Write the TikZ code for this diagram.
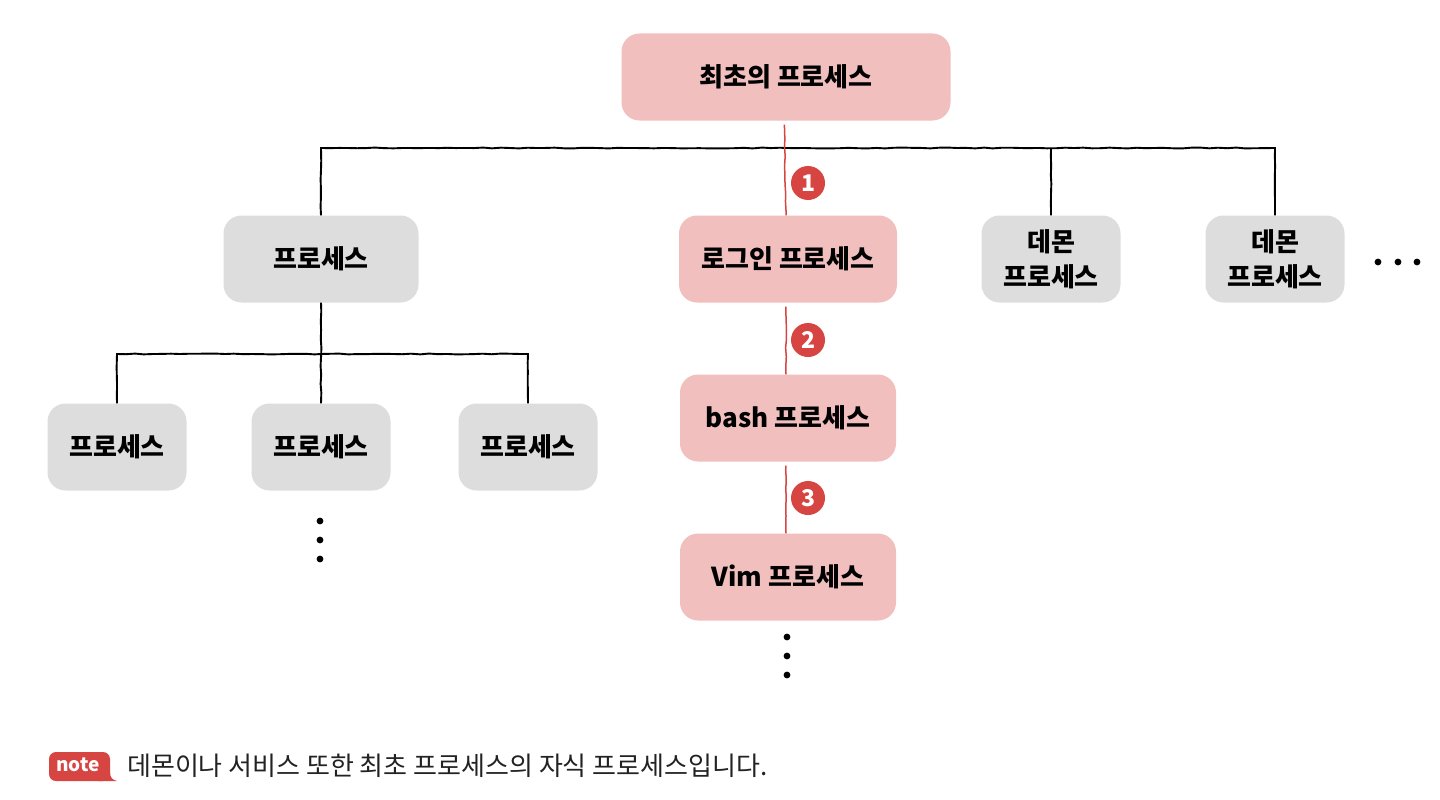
\documentclass[tikz,border=0pt]{standalone}
\usepackage{fontspec}
\setmainfont{Noto Sans CJK KR}
\usetikzlibrary{positioning, calc, decorations.pathmorphing}

\definecolor{procpink}{HTML}{F2BFBF}
\definecolor{procgray}{HTML}{DCDDDC}
\definecolor{markred}{HTML}{D64541}
\definecolor{notetext}{HTML}{222222}

\tikzset{
	box/.style={rounded corners=18pt, minimum height=87pt, inner sep=0pt, align=center,
		font=\bfseries\fontsize{26}{35}\selectfont},
	pinkbox/.style={box, fill=procpink},
	graybox/.style={box, fill=procgray},
	wire/.style={line width=1.9pt, decorate,
		decoration={random steps, segment length=9pt, amplitude=0.45pt}},
	redwire/.style={wire, draw=markred, line width=1.5pt, shorten <=4pt},
	numbadge/.style={circle, fill=markred, text=white, minimum size=34pt, inner sep=0pt,
		font=\bfseries\fontsize{23}{23}\selectfont}
}

\begin{document}
\begin{tikzpicture}[x=1pt, y=-1pt]
		\useasboundingbox (0,0) rectangle (1440,800);
		
		% Root
		\node[pinkbox, minimum width=329pt] (first) at (786,77) {최초의 프로세스};
		
		% Second level
		\node[graybox, minimum width=195pt] (proc) at (321,259) {프로세스};
		\node[pinkbox, minimum width=218pt] (login) at (788,259) {로그인 프로세스};
		\node[graybox, minimum width=139pt] (daemonA) at (1051,259) {데몬\\프로세스};
		\node[graybox, minimum width=139pt] (daemonB) at (1275,259) {데몬\\프로세스};
		
		% Children of the left process
		\node[graybox, minimum width=139pt] (childA) at (117,447) {프로세스};
		\node[graybox, minimum width=139pt] (childB) at (321,447) {프로세스};
		\node[graybox, minimum width=139pt] (childC) at (528,447) {프로세스};
		
		% Login chain
		\node[pinkbox, minimum width=216pt] (bash) at (788,418) {bash 프로세스};
		\node[pinkbox, minimum width=216pt] (vim) at (788,577) {Vim 프로세스};
		
		% Black tree lines
		\coordinate (bus) at (786,148);
		\coordinate (subbus) at (321,354);
		\draw[wire] (proc.north) |- (bus) -| (daemonB.north);
		\draw[wire] (daemonA.north |- bus) -- (daemonA.north);
		\draw[wire] (proc.south) -- (childB.north);
		\draw[wire] (childA.north) |- (subbus) -| (childC.north);
		
		% Red path to the shell
		\draw[redwire] ($(first.south)+(-2,0)$) -- ($(login.north)+(-2,0)$);
		\draw[redwire] ($(login.south)+(-2,0)$) -- ($(bash.north)+(-2,0)$);
		\draw[redwire] ($(bash.south)+(-2,0)$) -- ($(vim.north)+(-2,0)$);
		
		% Step badges
		\node[numbadge] (stepA) at (808,183) {1};
		\node[numbadge] (stepB) at (808,340) {2};
		\node[numbadge] (stepC) at (808,498) {3};
		
		% Continuation dots
		\foreach \x in {1378, 1398, 1417}
			\fill (\x,262) circle (3.4);
		\foreach \y in {521, 540, 559}
			\fill (320,\y) circle (3.4);
		\foreach \y in {637, 656, 675}
			\fill (787,\y) circle (3.4);
		
		% Note
		\fill[markred, rounded corners=7pt] (49,752) rectangle (110,781);
		\fill[markred] (98,772) -- (110,772) .. controls (110,777) and (112,780) .. (117,781) -- (98,781) -- cycle;
		\node[text=white, font=\bfseries\fontsize{19}{19}\selectfont] (notetag) at (78,765) {note};
		\node[anchor=west, text=notetext, font=\fontsize{26}{30}\selectfont, inner sep=0pt] (notebody) at (127,766)
			{데몬이나 서비스 또한 최초 프로세스의 자식 프로세스입니다.};
	\end{tikzpicture}
\end{document}
